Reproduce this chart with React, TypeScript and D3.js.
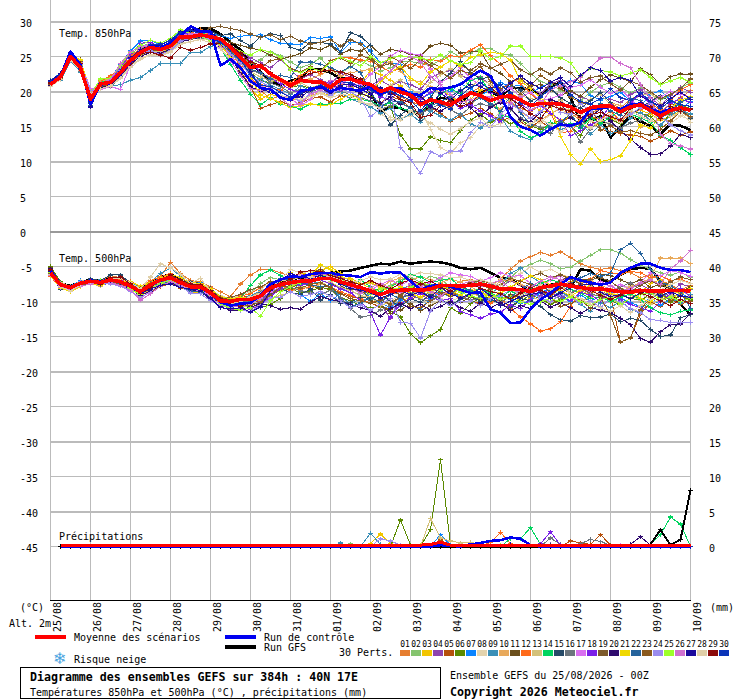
import * as d3 from "d3";

const dates = ["25/08","26/08","27/08","28/08","29/08","30/08","31/08","01/09","02/09","03/09","04/09","05/09","06/09","07/09","08/09","09/09","10/09"];
const leftTicks = [30,25,20,15,10,5,0,-5,-10,-15,-20,-25,-30,-35,-40,-45];
const rightTicks = [75,70,65,60,55,50,45,40,35,30,25,20,15,10,5,0];

const meanT850 = [21.0,22.1,25.0,23.4,18.9,21.1,21.3,22.7,24.4,25.6,26.3,26.0,26.5,27.8,27.8,28.1,27.8,27.5,26.3,24.9,23.4,23.7,22.5,21.7,20.9,21.6,21.4,21.4,20.6,21.7,21.8,21.3,21.0,20.0,20.5,19.9,19.5,18.1,18.8,18.5,18.1,19.0,19.8,19.4,18.7,19.2,19.4,18.8,18.0,18.3,18.3,18.2,17.8,17.0,17.7,17.9,17.9,17.1,17.8,18.1,17.3,16.5,17.3,17.7,17.3];
const controlT850 = [21.2,22.2,25.7,23.8,18.2,21.0,21.2,22.5,24.2,25.5,26.5,26.2,27.0,27.9,29.3,28.6,28.6,23.7,24.6,23.4,21.5,20.5,20.3,19.1,18.8,20.1,20.3,20.7,20.0,20.5,20.3,20.1,20.7,19.6,20.5,20.5,19.6,19.5,20.5,20.3,20.6,21.0,22.1,23.0,22.2,19.6,16.3,15.0,14.5,13.7,14.6,15.3,15.1,15.6,17.5,17.6,17.8,17.5,18.1,18.3,17.5,17.0,17.5,17.6,17.3];
const gfsT850 = [21.1,22.0,25.1,23.6,19.0,21.2,21.4,22.8,24.6,25.9,26.5,26.3,26.8,28.2,28.6,29.0,29.0,28.2,27.0,26.0,24.0,22.8,21.4,21.0,21.5,22.0,23.2,23.2,22.7,21.8,22.0,21.5,19.9,17.0,17.8,17.6,17.0,16.8,18.2,19.1,18.9,18.4,19.8,20.0,20.0,19.2,20.5,20.5,20.3,19.5,20.7,21.3,19.1,15.8,15.8,16.5,13.4,15.0,16.5,15.7,15.1,13.9,15.3,15.1,14.5];

const t850Members = [
  [21.3,22.4,25.1,23.9,19.2,21.2,21.6,23.3,24.9,26.2,26.7,26.5,26.8,28.1,28.3,28.9,28.4,27.6,25.8,24.3,22.1,20.2,18.9,19.4,19.1,20.0,20.4,20.9,20.2,21.0,20.9,20.5,20.8,19.4,20.2,19.2,18.6,18.0,18.9,18.2,17.8,18.9,19.9,20.6,20.2,19.6,18.4,17.6,17.1,18.1,18.6,17.4,16.9,15.9,16.7,17.8,18.3,17.6,18.9,19.6,18.5,17.2,18.1,19.1,20.1],
  [21.1,22.2,24.8,23.5,19.4,21.4,21.8,23.6,25.3,26.4,26.9,26.2,26.4,27.6,28.0,28.3,27.9,27.0,26.1,25.0,24.0,24.5,25.7,25.1,24.2,23.4,23.9,24.8,23.2,22.6,23.5,24.4,23.7,22.9,23.4,24.2,24.3,24.0,23.8,24.4,25.7,24.9,25.5,26.1,26.1,25.4,25.2,24.0,22.6,21.4,21.0,20.2,19.4,18.7,19.9,20.8,21.3,20.6,19.8,20.5,19.6,18.9,19.4,20.6,21.2],
  [21.0,22.0,25.2,24.4,20.2,20.9,21.0,22.4,24.0,25.1,25.8,25.6,26.2,27.5,27.7,28.0,27.6,27.1,25.5,23.0,20.4,18.9,19.6,19.2,19.0,18.7,19.4,19.8,19.4,20.1,20.4,21.1,23.0,22.4,21.6,20.8,19.4,18.9,19.7,20.4,19.3,18.4,18.9,20.2,19.7,18.6,19.8,19.0,18.2,17.3,16.8,15.9,16.4,15.2,14.8,15.6,16.2,15.8,16.9,17.3,16.8,15.9,16.4,17.2,16.7],
  [21.4,22.3,25.3,23.2,18.6,21.2,21.3,23.0,24.7,25.6,26.1,25.7,26.6,28.2,28.3,28.4,28.0,27.2,26.6,25.7,24.8,24.1,23.4,24.6,23.1,21.8,22.4,21.7,21.0,22.6,22.1,21.4,20.9,21.6,20.8,21.4,21.0,20.3,22.0,22.6,23.0,22.4,21.6,22.1,20.9,20.2,21.4,21.8,20.7,19.6,21.1,21.6,20.0,19.2,18.8,19.6,18.9,18.4,19.6,20.2,19.1,18.0,19.4,20.6,19.9],
  [20.9,21.9,24.6,23.0,19.1,20.7,20.9,22.0,23.8,25.2,25.9,25.4,25.8,27.3,27.6,27.9,27.7,26.8,24.8,22.9,20.8,17.6,18.1,18.6,18.0,18.4,19.0,19.2,18.5,19.4,19.1,19.6,19.3,18.4,19.2,18.9,17.6,16.8,17.7,16.9,15.8,16.4,16.9,17.6,16.8,15.9,16.2,15.6,14.9,15.8,14.7,15.5,16.4,15.3,15.9,14.6,14.3,14.0,13.8,13.6,12.9,13.5,14.4,13.8,14.2],
  [21.2,22.1,24.9,23.7,19.8,21.0,21.5,22.7,24.4,25.4,26.0,25.6,25.9,27.4,27.9,28.1,27.6,26.9,26.0,24.6,22.7,21.6,21.2,21.9,20.6,20.9,20.4,20.9,20.0,20.4,20.8,19.6,19.3,18.2,17.8,13.8,11.8,11.8,13.5,13.0,12.7,14.4,15.9,16.8,15.6,16.2,15.4,15.9,15.1,14.6,15.3,15.9,15.0,13.7,16.1,16.2,16.0,15.4,17.2,16.9,16.4,15.0,17.0,18.0,17.6],
  [21.6,22.6,25.4,24.1,19.0,21.6,21.9,23.9,25.8,27.2,27.3,26.6,27.4,28.6,28.7,28.6,28.2,28.0,27.6,27.9,28.0,28.1,27.4,26.9,26.8,26.7,27.7,27.6,27.8,25.6,27.0,27.0,25.8,24.1,24.1,23.9,20.0,19.0,19.7,20.4,20.0,21.1,20.4,19.5,20.2,21.3,20.7,20.9,19.8,20.6,21.2,20.8,21.6,21.1,19.4,18.8,19.3,19.9,18.6,17.9,19.6,20.1,18.8,17.6,18.5],
  [20.8,21.7,24.4,23.1,19.6,20.5,20.6,21.9,23.4,24.6,25.2,25.1,25.6,26.9,27.1,27.5,27.3,26.5,25.0,23.5,21.4,20.6,20.8,20.0,19.1,19.4,19.0,19.9,19.2,20.2,20.0,18.6,17.9,16.8,15.9,16.2,16.5,17.4,14.6,12.0,11.2,12.7,13.4,15.1,15.9,17.0,16.2,15.7,16.3,15.4,16.8,17.7,16.2,16.9,15.8,15.3,15.6,16.1,16.6,17.4,17.8,16.2,15.4,16.5,16.0],
  [20.9,21.6,24.3,22.8,19.9,20.4,20.7,21.0,21.6,22.0,23.0,24.0,24.0,24.0,25.6,25.6,26.4,27.0,25.9,24.0,22.4,21.8,20.9,20.3,19.6,20.8,20.1,20.7,19.8,19.9,18.9,18.4,17.8,16.9,17.6,16.0,16.8,15.6,17.2,16.5,15.9,16.8,15.4,14.8,15.9,16.4,14.3,13.6,13.1,14.2,15.1,14.6,14.9,15.6,13.9,15.3,14.0,14.6,16.2,17.0,15.9,15.2,16.6,17.4,16.8],
  [21.2,22.3,25.0,23.8,20.0,21.3,22.0,23.2,24.6,25.8,26.5,26.1,26.3,27.7,28.0,28.6,28.1,27.0,25.4,24.4,23.1,22.6,22.1,21.4,20.6,21.2,21.8,22.4,23.1,22.2,22.7,22.9,23.2,23.8,24.2,22.9,21.6,21.4,20.7,19.9,18.4,19.0,17.9,19.6,18.2,17.5,18.8,17.1,16.2,15.9,16.8,17.6,17.4,16.1,16.8,17.5,18.4,18.0,17.2,14.9,15.6,16.0,15.8,17.2,16.1],
  [21.0,22.0,24.7,24.6,19.5,21.1,21.2,23.1,24.8,25.9,26.4,26.3,26.7,27.8,28.0,28.2,27.9,27.6,27.0,26.6,26.2,25.9,25.2,24.6,25.0,25.4,26.2,26.0,26.6,25.3,26.0,25.8,26.6,25.3,26.0,25.8,25.3,25.1,26.5,26.9,26.6,25.5,25.7,25.7,23.4,22.6,21.4,21.9,20.7,21.0,20.2,19.4,20.1,19.3,20.6,21.7,22.4,21.9,21.4,23.2,22.4,21.0,22.1,22.5,22.5],
  [21.3,22.2,24.9,23.6,19.3,21.5,22.2,23.5,25.2,26.0,26.2,25.9,26.9,28.3,28.4,28.7,28.2,27.2,25.7,23.6,21.7,21.0,20.5,20.2,21.2,22.3,23.0,22.6,24.4,24.9,24.8,24.5,24.3,23.6,22.8,23.3,23.9,23.5,24.6,24.3,25.1,25.0,25.9,26.7,25.1,23.9,22.2,21.1,19.8,18.4,16.9,14.1,14.3,15.7,16.4,16.0,17.2,15.8,16.7,17.5,18.2,17.4,18.8,20.2,21.0],
  [21.1,22.1,25.0,23.5,19.7,21.0,21.4,22.6,23.9,25.2,25.7,25.8,26.1,27.2,27.6,27.7,27.8,27.1,25.6,24.2,22.8,22.1,21.5,21.9,20.9,21.3,20.5,21.0,20.3,21.4,21.9,20.9,20.2,19.5,20.9,21.7,20.3,19.6,21.3,22.4,23.3,22.2,20.6,21.8,21.0,19.7,18.8,19.4,19.0,18.6,17.9,18.8,17.3,18.2,18.9,19.6,18.1,17.4,18.6,19.4,19.8,18.3,17.6,18.4,19.2],
  [21.2,22.4,25.2,24.0,19.1,21.3,21.6,22.9,24.5,25.7,26.6,26.4,26.8,27.6,28.1,28.5,27.8,26.2,23.9,21.6,19.6,18.1,19.1,18.2,17.9,17.5,18.2,18.2,18.2,18.3,18.9,18.9,18.6,17.9,18.4,17.6,17.2,17.0,18.1,19.6,20.4,19.7,21.6,22.0,19.8,16.6,16.3,14.3,13.4,13.9,15.6,15.2,15.4,14.8,16.2,15.5,16.3,17.4,16.8,16.2,15.6,13.8,13.0,12.0,11.0],
  [21.5,22.5,25.0,23.3,18.4,21.1,21.3,22.8,24.6,25.6,26.3,26.7,27.4,28.3,28.0,28.4,28.6,28.0,28.2,27.3,26.5,27.8,28.2,28.0,26.3,25.9,27.0,27.0,26.8,25.6,28.4,27.9,26.6,17.9,15.2,16.6,17.8,15.9,19.1,21.4,22.6,24.3,22.7,21.8,22.1,20.4,21.0,20.2,18.6,19.3,20.5,19.1,18.3,17.6,18.7,19.9,18.4,17.0,16.8,17.6,18.6,19.4,18.5,17.4,16.2],
  [20.9,21.8,24.7,22.9,19.4,20.8,20.6,22.2,24.1,25.3,25.8,25.9,26.0,27.0,27.7,27.6,27.4,26.7,25.3,24.5,23.0,22.6,21.2,20.7,19.8,20.3,19.9,20.5,19.6,20.1,19.5,19.1,18.7,17.4,18.0,18.4,17.6,16.9,17.5,18.3,17.4,16.6,17.8,18.2,17.9,18.6,17.4,16.2,15.4,14.9,14.0,15.7,15.2,12.8,14.6,15.9,15.3,14.8,15.5,15.9,17.1,16.4,16.9,17.7,16.3],
  [21.0,22.3,25.0,24.2,20.4,20.3,20.7,20.3,23.8,26.3,26.8,26.0,27.1,28.0,28.2,28.3,27.7,26.6,25.2,23.2,21.5,20.8,20.0,19.4,19.1,17.9,18.9,20.6,20.1,21.2,21.8,20.9,22.5,23.5,25.1,25.9,25.4,25.2,23.2,21.3,22.1,23.4,21.9,20.8,19.7,19.6,20.5,19.2,19.9,18.7,19.0,19.5,20.6,20.9,21.7,20.6,19.7,20.4,18.9,17.6,18.4,19.2,20.0,19.6,19.2],
  [21.3,22.2,25.0,23.7,18.8,21.2,21.5,23.4,25.4,26.9,27.0,26.4,26.9,28.4,28.1,27.9,28.2,27.3,26.4,25.2,24.4,22.7,21.9,21.1,20.3,19.8,20.2,20.9,21.4,20.2,20.9,21.6,20.4,19.2,18.8,20.3,19.6,18.9,19.9,20.6,18.7,17.6,18.1,17.2,16.5,15.6,17.7,18.2,17.3,18.0,16.9,15.9,13.7,14.4,15.2,16.0,18.1,17.3,18.4,19.7,18.2,16.8,18.3,19.0,18.4],
  [21.4,22.5,25.2,24.3,19.2,21.0,21.4,22.9,24.3,25.5,26.0,26.1,26.5,27.9,28.1,28.2,29.1,29.3,29.0,28.7,28.2,27.7,28.1,27.4,27.9,27.2,26.8,27.0,27.4,26.5,27.4,26.8,24.9,23.6,24.0,23.2,24.6,25.0,24.1,23.5,24.4,23.8,23.0,24.0,23.3,23.9,24.5,23.1,22.4,23.2,22.5,23.4,22.7,21.3,22.0,22.2,21.1,20.2,21.5,20.9,19.9,19.0,19.6,20.4,21.8],
  [20.9,22.0,24.8,23.3,19.3,20.6,20.9,22.3,23.9,25.0,25.6,25.5,26.0,27.1,27.4,27.8,27.3,26.4,25.0,22.6,20.7,20.0,20.5,19.3,18.8,19.6,20.3,20.5,19.7,20.7,20.3,19.8,19.1,18.3,19.2,18.2,18.9,19.4,17.8,17.2,18.0,18.6,17.7,16.4,17.8,18.4,17.6,16.0,15.7,17.0,18.8,18.4,16.2,15.4,16.4,17.5,15.8,14.4,13.2,12.0,11.0,11.1,12.2,13.9,13.4],
  [21.1,22.1,25.3,24.5,19.9,21.1,21.0,22.5,24.2,25.3,26.2,26.0,26.2,27.4,27.6,28.0,27.6,26.6,24.9,23.3,21.9,19.5,19.0,18.4,17.7,18.0,18.2,18.0,18.1,18.9,19.6,18.9,20.2,21.4,22.7,23.6,21.9,21.0,22.8,23.5,24.4,23.6,24.9,25.2,25.6,25.4,24.5,21.5,20.4,19.1,18.0,13.6,11.0,9.6,11.8,10.0,10.3,10.8,13.0,15.2,14.8,16.4,17.6,18.8,19.2],
  [21.6,22.5,25.5,23.6,18.0,20.9,21.2,22.6,24.3,25.5,25.9,26.2,26.4,27.6,27.4,27.9,27.6,26.8,25.6,24.4,23.2,22.7,21.8,22.3,22.0,24.2,24.2,23.9,23.4,22.8,23.6,22.7,20.0,17.8,18.7,18.5,17.6,18.3,17.9,18.6,19.2,20.3,18.4,19.1,18.2,17.1,19.4,17.0,15.2,16.3,14.8,15.6,16.8,14.9,17.5,18.2,17.2,16.6,19.0,18.7,17.3,16.1,17.2,18.5,19.1],
  [21.0,21.9,24.7,23.4,19.0,20.7,21.1,22.4,24.2,25.3,25.9,25.9,26.3,27.4,27.5,27.9,27.5,26.7,25.8,25.0,24.2,23.4,24.4,24.7,23.3,22.8,23.5,22.9,24.4,24.8,24.0,25.2,24.6,23.4,24.9,24.3,23.3,24.5,23.7,22.8,21.9,23.0,22.5,23.6,21.4,20.4,21.0,19.6,20.9,22.3,21.4,20.5,19.2,18.4,18.1,14.5,15.1,14.2,14.4,14.0,13.8,14.6,15.8,17.1,16.4],
  [21.2,22.0,24.4,23.9,20.1,21.0,21.3,23.0,24.5,25.4,25.8,25.3,25.8,27.2,27.6,28.0,27.4,27.0,25.3,24.1,22.2,21.4,20.6,20.0,19.2,18.6,19.7,20.2,19.5,20.4,19.9,19.1,16.4,17.6,20.5,12.0,10.3,8.3,11.4,10.8,11.5,11.5,14.1,15.6,14.9,16.7,18.2,17.3,16.2,17.1,18.4,17.0,16.8,18.3,17.2,15.9,16.5,16.0,16.8,17.7,18.3,16.6,15.2,14.4,13.8],
  [21.3,22.4,25.1,23.7,19.5,21.8,21.9,23.7,25.6,26.6,27.3,26.9,27.6,28.8,28.3,27.9,27.2,26.7,26.5,25.7,25.2,26.0,25.6,24.9,23.0,22.7,23.4,22.9,24.1,24.9,24.3,23.7,25.0,24.1,24.7,25.1,24.9,24.8,24.4,25.2,24.4,23.9,24.1,25.8,24.6,25.0,26.5,26.5,25.0,25.0,25.0,24.8,24.1,22.2,23.3,23.0,22.8,22.2,22.6,23.1,22.0,21.0,21.5,22.0,21.3],
  [21.1,22.3,24.9,23.4,19.6,21.2,21.7,24.0,25.7,26.3,26.5,26.0,26.3,27.7,28.2,28.0,27.6,26.3,24.4,22.3,20.4,20.1,20.6,19.1,18.0,18.2,19.6,20.2,21.6,21.5,20.4,21.4,20.1,21.8,22.9,24.4,25.0,24.2,22.1,21.0,19.6,18.4,18.8,19.4,19.2,18.6,18.3,19.2,17.4,18.0,20.3,20.8,21.4,22.0,23.4,24.8,24.9,24.0,23.4,21.0,19.0,13.9,12.6,12.2,11.8],
  [21.5,22.6,25.6,23.3,17.8,20.9,21.1,22.8,24.8,26.0,26.5,26.6,27.3,28.5,28.9,28.4,28.5,27.4,26.5,25.3,22.9,20.4,19.9,19.3,18.9,19.2,20.2,20.6,19.9,20.9,21.0,20.4,19.6,20.5,19.6,20.2,19.2,18.5,17.9,19.8,18.7,20.1,21.0,20.7,19.9,19.4,21.2,22.2,21.2,20.4,21.3,22.0,20.7,22.3,23.4,23.0,21.5,22.0,21.6,19.3,18.6,17.9,19.0,19.9,18.9],
  [20.7,21.7,24.5,23.0,19.7,20.4,20.8,22.0,23.6,24.8,25.3,25.2,25.7,26.7,27.1,27.4,27.0,26.1,24.6,23.1,21.3,20.4,20.1,19.4,19.0,18.9,19.3,19.7,19.1,19.6,19.4,18.5,18.2,17.6,16.3,15.9,17.2,16.4,15.5,14.6,13.9,14.7,15.7,16.2,15.0,15.4,16.1,14.8,15.4,16.0,15.3,14.2,15.1,15.6,14.8,15.9,16.7,15.6,17.4,16.5,15.8,16.9,16.4,17.0,15.6],
  [21.2,22.0,25.0,24.0,19.0,21.0,21.3,22.7,24.0,25.4,25.6,25.2,24.8,26.3,25.9,26.3,26.8,26.9,26.6,25.5,24.2,23.8,22.7,21.6,20.8,21.9,22.6,22.9,23.0,22.8,22.4,21.8,20.7,20.0,19.9,18.9,18.4,16.3,16.6,18.0,18.7,17.9,18.3,19.7,20.5,19.5,19.0,18.0,16.8,16.1,18.0,17.5,17.2,16.3,16.7,17.0,16.4,15.9,17.6,18.4,17.8,16.1,17.9,17.1,17.5],
  [21.4,22.4,25.4,23.2,18.3,21.1,21.4,22.9,24.7,25.7,26.7,26.8,27.2,28.4,28.7,28.3,27.7,27.0,26.0,24.5,22.4,20.9,20.7,19.9,19.2,19.8,20.5,20.8,20.4,21.4,21.2,20.7,20.3,19.5,20.0,19.4,18.8,17.2,19.0,18.0,17.5,19.4,20.6,21.2,20.3,21.0,19.8,18.4,17.9,19.2,20.4,21.3,19.5,18.6,18.2,19.0,20.4,19.1,18.7,19.8,18.6,17.6,18.7,18.1,17.9],
];

const meanT500 = [-5.9,-7.6,-8.0,-7.4,-7.1,-7.3,-6.9,-7.2,-7.8,-8.6,-7.6,-6.9,-6.6,-7.3,-7.9,-7.9,-8.8,-9.9,-10.0,-9.7,-9.7,-9.2,-8.0,-7.6,-7.3,-7.1,-7.1,-6.7,-6.7,-7.2,-7.6,-8.0,-8.5,-9.0,-8.5,-8.4,-8.3,-8.4,-8.2,-7.7,-7.7,-7.8,-7.7,-7.5,-7.8,-8.2,-8.2,-8.3,-8.6,-8.0,-7.8,-7.5,-7.8,-8.0,-8.2,-8.2,-8.4,-8.6,-8.7,-8.4,-8.5,-8.5,-8.4,-8.4,-8.5];
const controlT500 = [-5.6,-7.5,-8.1,-7.3,-7.0,-7.2,-6.8,-7.3,-7.9,-8.7,-7.7,-7.0,-6.5,-7.4,-7.8,-8.0,-8.9,-10.1,-10.6,-10.3,-10.2,-9.1,-7.5,-6.9,-6.4,-6.5,-6.1,-5.9,-5.9,-6.2,-6.3,-6.5,-5.8,-6.0,-5.8,-5.9,-7.1,-8.3,-7.8,-7.6,-7.9,-8.3,-8.8,-8.7,-11.1,-11.6,-13.1,-13.0,-11.1,-9.7,-8.8,-7.6,-6.5,-7.0,-7.3,-7.6,-7.3,-5.9,-5.2,-4.6,-4.6,-5.2,-5.5,-5.5,-5.8];
const gfsT500 = [-5.5,-7.4,-7.8,-7.2,-6.9,-7.1,-6.6,-7.0,-7.6,-8.4,-7.2,-6.5,-6.1,-6.9,-7.6,-7.7,-8.6,-9.8,-10.2,-9.9,-9.8,-8.9,-7.7,-7.1,-6.8,-6.6,-6.4,-6.0,-5.9,-5.7,-5.6,-5.2,-4.9,-4.6,-4.7,-4.3,-4.6,-4.4,-4.3,-4.4,-4.7,-5.2,-5.4,-5.2,-5.9,-6.6,-6.9,-7.6,-8.5,-7.8,-7.6,-7.6,-8.0,-5.4,-5.6,-6.9,-7.1,-6.2,-5.4,-5.2,-5.3,-7.1,-8.8,-10.4,-11.9];

const t500Members = [
  [-6.0,-7.9,-8.4,-7.6,-6.8,-7.0,-6.3,-6.6,-7.3,-9.7,-7.1,-6.4,-4.4,-6.0,-7.0,-7.2,-7.9,-8.6,-9.3,-7.5,-6.2,-5.4,-5.4,-5.9,-6.4,-6.9,-6.6,-5.7,-6.1,-6.8,-7.4,-7.9,-8.2,-8.6,-7.7,-7.3,-7.0,-7.6,-8.1,-7.4,-7.9,-7.1,-6.9,-7.6,-7.9,-6.8,-5.4,-4.2,-3.6,-3.0,-3.4,-2.9,-3.7,-4.6,-5.1,-5.4,-5.2,-5.6,-5.9,-6.6,-6.2,-7.0,-7.6,-8.4,-7.7],
  [-6.2,-7.7,-7.9,-7.2,-7.3,-7.6,-7.0,-7.4,-7.7,-8.4,-8.0,-7.6,-7.1,-7.8,-8.1,-8.3,-8.9,-9.8,-9.6,-9.3,-8.8,-7.4,-6.6,-6.9,-7.7,-7.5,-6.8,-7.0,-7.4,-8.1,-8.4,-9.1,-9.0,-8.2,-7.7,-6.9,-6.6,-7.2,-6.4,-6.8,-7.9,-8.1,-7.4,-7.1,-7.7,-8.2,-6.6,-5.3,-4.7,-4.1,-4.6,-5.3,-5.1,-4.2,-3.4,-2.6,-2.6,-3.1,-4.0,-4.8,-5.4,-5.9,-6.2,-5.8,-6.6],
  [-5.4,-7.3,-8.6,-7.9,-7.4,-7.0,-7.3,-7.6,-8.2,-9.2,-8.1,-7.3,-6.9,-7.5,-8.6,-8.8,-9.3,-10.5,-10.7,-10.4,-9.9,-9.9,-9.2,-7.9,-6.7,-5.9,-6.2,-5.6,-5.0,-6.0,-6.7,-7.4,-8.1,-9.6,-10.6,-9.9,-9.4,-8.9,-9.5,-8.7,-9.1,-8.2,-8.6,-9.4,-8.8,-9.6,-9.1,-9.9,-9.6,-8.7,-9.3,-8.1,-7.2,-8.4,-9.1,-7.9,-9.0,-9.6,-8.2,-8.8,-7.4,-6.9,-8.1,-9.0,-8.3],
  [-6.1,-7.8,-8.3,-7.5,-7.2,-7.5,-7.1,-7.1,-7.6,-8.9,-8.2,-7.1,-6.9,-7.1,-8.0,-8.1,-9.2,-10.2,-11.2,-10.9,-10.6,-10.0,-8.7,-7.4,-7.0,-6.4,-6.9,-6.2,-6.0,-6.6,-6.9,-8.6,-9.3,-10.4,-12.4,-9.6,-8.4,-8.9,-9.9,-8.3,-7.7,-8.5,-7.4,-6.9,-7.3,-8.1,-7.0,-7.7,-8.4,-9.2,-7.9,-7.2,-7.8,-8.5,-8.1,-8.6,-9.0,-9.3,-8.0,-7.6,-8.3,-9.4,-8.8,-7.5,-7.9],
  [-5.8,-8.0,-8.4,-7.8,-7.0,-7.4,-7.2,-7.7,-8.2,-9.1,-8.6,-7.9,-7.4,-8.1,-8.4,-8.2,-9.1,-10.3,-10.1,-9.0,-9.6,-10.2,-9.0,-8.4,-8.2,-8.0,-7.6,-7.9,-8.4,-8.8,-9.3,-9.6,-10.2,-10.8,-11.1,-10.2,-9.6,-9.3,-8.7,-8.9,-8.5,-9.3,-9.8,-10.4,-9.9,-9.0,-9.5,-9.0,-8.2,-7.8,-8.6,-7.9,-8.9,-8.1,-8.7,-7.9,-9.2,-15.8,-15.2,-11.8,-10.1,-10.7,-9.6,-10.4,-9.9],
  [-5.0,-7.2,-7.9,-7.6,-6.8,-7.5,-7.0,-7.3,-7.5,-8.5,-7.8,-7.0,-7.2,-7.6,-8.3,-8.5,-9.6,-10.0,-10.4,-10.3,-10.7,-10.9,-10.4,-9.6,-8.1,-8.8,-8.5,-8.0,-8.2,-9.4,-9.9,-10.6,-10.9,-10.7,-11.4,-12.2,-14.6,-15.9,-14.9,-14.0,-10.9,-11.7,-10.3,-9.5,-10.1,-9.7,-10.8,-9.9,-9.1,-9.6,-10.4,-9.8,-9.0,-10.2,-9.3,-8.9,-9.8,-10.6,-9.5,-9.9,-8.9,-9.4,-10.1,-9.2,-9.8],
  [-6.3,-7.5,-7.8,-7.0,-7.0,-7.1,-6.7,-7.0,-7.3,-8.1,-7.4,-6.6,-6.3,-7.0,-7.5,-7.3,-8.5,-9.6,-10.2,-10.4,-9.5,-8.7,-7.6,-6.8,-6.4,-9.0,-10.0,-8.9,-9.9,-8.9,-7.4,-8.4,-9.4,-10.2,-10.9,-9.8,-10.4,-11.1,-9.6,-8.8,-9.3,-9.0,-8.3,-8.8,-8.4,-8.9,-9.7,-10.3,-9.9,-8.7,-8.2,-9.3,-10.0,-9.1,-9.9,-9.3,-8.6,-9.5,-10.2,-10.7,-9.4,-10.5,-9.7,-8.8,-9.6],
  [-5.9,-7.6,-8.2,-7.5,-6.9,-7.4,-7.0,-7.1,-7.5,-8.3,-7.5,-6.8,-6.4,-6.9,-7.4,-7.5,-8.3,-9.2,-9.6,-9.1,-8.6,-8.2,-7.3,-6.9,-5.4,-5.9,-5.7,-6.6,-6.9,-7.5,-8.9,-8.4,-9.7,-10.6,-9.9,-9.1,-8.7,-9.4,-10.5,-9.6,-9.9,-9.4,-9.2,-9.8,-8.1,-6.7,-7.0,-6.0,-5.1,-5.8,-5.4,-6.1,-6.6,-7.4,-8.1,-8.6,-9.2,-8.3,-7.6,-8.9,-9.7,-8.6,-7.9,-8.4,-9.1],
  [-5.7,-7.7,-8.3,-7.7,-7.1,-6.9,-7.1,-7.5,-8.4,-8.9,-7.2,-6.0,-5.2,-6.4,-7.5,-7.8,-8.7,-9.7,-9.9,-9.7,-9.2,-8.5,-7.9,-7.6,-7.5,-7.8,-7.1,-7.4,-7.9,-9.4,-10.3,-9.6,-9.8,-8.7,-8.9,-8.2,-7.7,-8.6,-9.0,-8.5,-7.9,-8.3,-8.9,-8.6,-9.1,-7.6,-6.0,-5.2,-6.4,-7.3,-7.9,-8.6,-9.4,-10.4,-11.4,-10.2,-10.9,-9.9,-11.1,-11.7,-9.6,-8.9,-9.5,-10.2,-9.0],
  [-6.0,-7.9,-8.1,-7.6,-7.4,-7.8,-7.2,-7.6,-8.0,-9.3,-8.3,-7.5,-6.8,-7.7,-8.2,-8.4,-9.0,-10.0,-10.6,-10.0,-9.4,-8.6,-7.8,-7.3,-7.7,-7.2,-6.5,-6.3,-6.6,-7.1,-6.9,-7.6,-7.4,-8.0,-7.1,-6.6,-7.0,-6.4,-6.9,-7.3,-6.8,-7.2,-7.9,-8.7,-8.2,-7.1,-6.9,-7.6,-8.0,-7.5,-6.9,-6.2,-6.6,-7.4,-7.0,-7.7,-8.2,-8.6,-7.9,-7.3,-6.7,-3.8,-3.8,-3.8,-4.6],
  [-5.2,-7.4,-8.0,-7.4,-7.3,-7.6,-7.3,-7.3,-7.7,-8.2,-7.9,-7.2,-6.7,-7.2,-7.6,-7.7,-9.0,-9.4,-9.8,-10.0,-10.3,-10.2,-8.9,-8.3,-8.0,-7.4,-7.7,-8.2,-7.5,-7.9,-8.3,-8.1,-9.9,-10.4,-11.7,-11.2,-10.3,-11.3,-10.6,-9.9,-10.4,-10.1,-9.4,-9.8,-9.3,-9.9,-9.0,-9.5,-8.8,-8.3,-7.7,-7.0,-6.4,-6.9,-6.8,-6.1,-6.3,-6.9,-7.5,-6.9,-8.0,-7.5,-8.2,-8.7,-7.9],
  [-6.4,-8.1,-8.5,-7.8,-7.2,-7.2,-6.8,-6.9,-7.1,-7.9,-7.0,-6.5,-6.0,-7.2,-7.7,-7.6,-8.4,-9.5,-9.9,-9.2,-8.9,-8.0,-7.1,-7.7,-8.4,-8.2,-7.9,-7.4,-7.9,-8.6,-9.1,-9.6,-10.2,-9.7,-9.0,-8.6,-7.9,-8.8,-8.4,-9.1,-8.8,-9.6,-9.0,-8.9,-10.2,-9.5,-11.0,-12.2,-13.2,-14.2,-13.9,-12.9,-10.7,-8.4,-6.8,-5.6,-5.9,-6.1,-5.7,-5.9,-6.6,-6.3,-7.0,-6.8,-7.4],
  [-5.5,-7.3,-7.8,-7.1,-6.9,-7.3,-6.9,-7.2,-8.1,-8.8,-7.6,-7.0,-6.8,-7.5,-8.0,-8.3,-9.4,-9.9,-10.1,-10.6,-10.9,-10.4,-9.7,-9.1,-8.7,-7.9,-8.2,-7.5,-7.2,-8.0,-8.4,-9.2,-9.3,-10.6,-10.1,-9.4,-9.2,-8.1,-8.8,-7.8,-8.5,-8.0,-8.9,-9.2,-8.4,-8.9,-7.9,-8.6,-9.3,-9.8,-8.9,-7.6,-8.7,-9.9,-9.4,-8.8,-9.7,-8.5,-9.1,-9.8,-10.4,-9.7,-9.1,-8.3,-9.3],
  [-5.8,-7.6,-8.1,-7.3,-6.9,-7.1,-7.1,-7.4,-7.9,-8.3,-7.7,-7.1,-6.7,-7.4,-8.1,-8.0,-9.0,-9.8,-10.1,-9.5,-7.7,-6.2,-5.5,-6.3,-7.1,-7.6,-7.2,-6.9,-6.8,-7.5,-7.8,-6.9,-7.9,-8.6,-7.9,-7.2,-6.2,-6.5,-7.3,-7.0,-6.7,-7.9,-8.6,-8.2,-8.8,-9.4,-8.5,-9.2,-8.1,-7.4,-6.9,-7.3,-8.3,-8.8,-9.6,-9.3,-10.0,-9.4,-8.9,-9.7,-10.9,-11.6,-11.9,-11.4,-11.2],
  [-6.2,-8.2,-8.4,-7.7,-6.8,-7.0,-6.2,-6.2,-7.4,-8.3,-7.5,-7.0,-6.3,-6.8,-7.2,-7.4,-8.1,-9.5,-10.8,-10.6,-10.1,-9.3,-8.9,-8.2,-8.7,-9.0,-8.2,-9.8,-9.0,-10.3,-10.1,-9.4,-9.6,-9.0,-9.9,-10.7,-9.6,-10.1,-9.0,-9.7,-10.5,-9.7,-9.1,-10.0,-9.6,-10.4,-10.9,-9.6,-9.9,-10.7,-11.9,-12.6,-12.8,-12.0,-12.3,-12.2,-11.8,-12.9,-12.4,-12.7,-14.0,-15.0,-14.8,-12.3,-11.9],
  [-5.9,-7.8,-8.2,-7.6,-7.1,-7.2,-7.0,-7.3,-7.8,-8.7,-7.9,-7.3,-6.9,-7.5,-7.9,-8.1,-9.1,-9.9,-10.5,-10.1,-10.0,-9.7,-8.6,-8.3,-7.9,-8.5,-8.8,-9.0,-8.4,-9.5,-11.0,-12.2,-12.0,-11.2,-10.6,-9.4,-9.0,-9.7,-9.9,-9.3,-8.7,-9.2,-9.8,-9.5,-9.0,-10.1,-9.3,-8.9,-9.4,-8.6,-9.1,-9.6,-8.7,-8.2,-8.9,-9.3,-8.5,-7.9,-7.3,-8.3,-9.0,-8.5,-9.4,-8.8,-8.2],
  [-5.6,-7.7,-8.4,-7.8,-7.3,-7.5,-7.1,-7.6,-8.4,-9.6,-8.4,-6.9,-6.7,-7.8,-8.6,-8.3,-9.5,-10.4,-10.8,-10.5,-10.4,-9.4,-8.7,-7.8,-6.7,-6.1,-6.3,-6.5,-6.4,-6.9,-7.8,-8.6,-8.4,-7.6,-6.9,-7.7,-6.9,-7.9,-7.3,-6.6,-5.9,-6.2,-6.4,-7.1,-6.6,-5.9,-6.4,-6.3,-7.4,-8.1,-6.9,-6.3,-7.7,-8.4,-7.8,-7.1,-7.9,-7.6,-8.2,-7.3,-5.9,-6.3,-5.6,-5.9,-6.4],
  [-5.7,-7.5,-7.9,-7.2,-7.1,-7.7,-7.3,-7.0,-7.4,-8.2,-7.3,-6.8,-7.0,-7.6,-7.9,-7.8,-8.7,-9.8,-10.5,-10.9,-11.1,-10.5,-9.3,-8.1,-7.3,-7.7,-7.3,-6.9,-7.5,-8.2,-8.7,-9.9,-11.6,-14.8,-12.2,-10.4,-9.5,-8.9,-9.3,-9.9,-9.6,-11.4,-11.9,-12.4,-11.8,-11.5,-10.5,-11.0,-9.7,-8.4,-8.8,-9.2,-9.9,-8.7,-9.1,-9.9,-8.6,-9.8,-10.4,-10.9,-11.4,-10.0,-8.9,-8.1,-9.4],
  [-6.1,-7.8,-8.2,-7.4,-7.0,-7.4,-7.2,-7.5,-8.0,-8.6,-7.9,-7.1,-6.6,-7.0,-7.7,-7.9,-8.9,-9.6,-9.4,-9.0,-8.3,-7.9,-7.2,-7.8,-7.0,-6.3,-6.0,-5.4,-6.2,-7.2,-8.0,-8.6,-8.9,-8.1,-8.5,-9.0,-8.3,-7.4,-8.0,-8.7,-9.3,-8.6,-7.4,-7.0,-7.4,-8.4,-8.0,-7.1,-6.4,-6.0,-6.6,-6.2,-6.8,-7.5,-6.9,-6.6,-7.1,-8.2,-8.6,-7.7,-7.0,-7.8,-7.2,-6.5,-6.9],
  [-5.3,-7.4,-8.0,-7.5,-7.2,-7.6,-7.4,-7.7,-8.3,-9.1,-8.5,-7.7,-7.3,-7.9,-8.4,-8.6,-9.7,-10.7,-11.3,-11.2,-10.8,-10.3,-10.6,-11.1,-10.9,-11.1,-10.1,-9.3,-9.7,-10.0,-10.4,-10.9,-11.3,-12.1,-11.0,-10.3,-11.0,-10.4,-11.2,-10.7,-10.0,-10.9,-11.4,-10.2,-10.9,-10.2,-11.3,-10.6,-11.0,-9.9,-10.8,-10.2,-10.9,-11.7,-10.9,-11.2,-11.6,-12.4,-13.3,-15.3,-15.8,-14.3,-13.3,-13.2,-11.7],
  [-6.3,-8.1,-8.6,-7.9,-7.4,-7.7,-7.2,-7.1,-7.2,-7.8,-7.3,-6.7,-6.1,-6.6,-7.3,-7.4,-8.2,-9.3,-9.6,-9.4,-9.6,-9.0,-7.9,-7.3,-5.9,-6.6,-6.2,-4.8,-5.4,-6.4,-6.9,-7.6,-7.2,-8.0,-8.6,-7.9,-8.8,-9.4,-8.5,-7.7,-8.4,-9.1,-8.3,-8.6,-9.4,-8.8,-7.9,-7.1,-6.3,-6.9,-7.6,-8.4,-9.2,-8.4,-7.7,-8.3,-8.9,-9.1,-8.4,-9.6,-10.0,-9.1,-9.8,-8.6,-8.1],
  [-5.8,-7.7,-8.3,-7.6,-7.3,-7.6,-6.9,-7.4,-7.9,-8.4,-7.8,-7.4,-7.1,-7.9,-8.5,-8.7,-9.4,-10.1,-10.9,-10.6,-9.9,-8.8,-7.6,-6.7,-6.9,-7.4,-7.6,-7.9,-7.6,-9.8,-10.8,-10.2,-9.4,-10.1,-9.0,-9.6,-8.9,-8.2,-7.6,-8.1,-8.9,-7.9,-8.4,-9.2,-9.8,-9.0,-9.4,-8.3,-7.4,-7.9,-8.4,-9.1,-7.4,-6.6,-6.0,-6.4,-6.0,-2.6,-1.7,-3.1,-5.4,-7.2,-7.8,-8.6,-11.0],
  [-6.0,-7.9,-8.3,-7.7,-7.4,-7.4,-7.0,-7.3,-7.6,-8.1,-7.4,-6.9,-6.5,-7.1,-8.1,-8.2,-8.8,-9.4,-10.0,-10.2,-10.6,-10.1,-9.1,-7.9,-7.8,-8.1,-7.5,-7.3,-8.0,-8.9,-9.6,-9.9,-10.2,-9.8,-10.4,-9.2,-10.7,-10.9,-9.9,-9.0,-8.2,-7.9,-7.3,-7.6,-8.2,-7.6,-6.7,-7.1,-7.6,-8.3,-9.4,-10.7,-10.3,-9.7,-11.0,-9.4,-12.0,-15.8,-15.2,-11.2,-9.4,-8.8,-9.9,-9.1,-10.0],
  [-5.6,-7.4,-7.9,-7.2,-7.2,-7.4,-7.5,-7.8,-8.6,-9.4,-8.7,-7.4,-6.9,-7.8,-8.8,-8.9,-9.9,-10.6,-10.8,-11.3,-11.4,-10.6,-9.5,-9.4,-8.6,-9.3,-9.0,-8.6,-9.2,-9.9,-10.9,-10.5,-11.2,-10.4,-9.6,-13.0,-13.1,-15.2,-11.4,-9.8,-10.6,-10.0,-9.9,-10.6,-9.6,-9.2,-8.3,-9.0,-8.7,-9.5,-10.0,-9.0,-9.4,-10.3,-9.9,-10.8,-9.6,-10.1,-11.0,-11.6,-12.6,-12.7,-13.0,-13.0,-13.0],
  [-5.9,-7.6,-8.1,-7.5,-7.1,-7.0,-6.9,-7.1,-8.3,-9.0,-8.1,-7.4,-7.0,-7.5,-8.0,-8.2,-9.2,-10.3,-11.0,-11.2,-10.9,-12.1,-9.9,-8.6,-7.9,-7.3,-6.6,-6.4,-6.1,-6.9,-7.4,-8.1,-8.9,-8.2,-7.9,-8.5,-8.0,-7.3,-7.7,-8.4,-7.9,-8.7,-9.2,-9.6,-9.0,-9.7,-9.4,-10.1,-10.4,-10.0,-9.6,-10.0,-9.3,-10.0,-10.5,-9.7,-9.5,-10.4,-9.6,-9.0,-8.7,-9.9,-9.3,-10.0,-9.5],
  [-6.2,-8.0,-8.2,-7.8,-7.5,-7.3,-7.3,-7.7,-8.4,-9.8,-8.9,-7.8,-7.2,-7.7,-8.3,-8.0,-9.3,-10.1,-10.7,-10.7,-10.2,-9.6,-8.2,-7.5,-7.1,-6.9,-6.7,-5.9,-6.5,-7.0,-7.9,-8.8,-8.0,-7.4,-8.1,-8.7,-7.5,-7.9,-8.6,-9.2,-8.3,-7.6,-7.1,-7.9,-7.4,-7.0,-8.2,-8.7,-7.9,-7.1,-6.5,-6.9,-7.4,-8.0,-8.6,-8.4,-7.8,-8.5,-8.1,-7.4,-6.9,-7.6,-5.4,-4.2,-2.7],
  [-5.7,-7.5,-8.0,-7.3,-7.0,-7.2,-7.1,-7.3,-7.8,-8.9,-8.2,-7.7,-7.5,-8.0,-8.2,-8.4,-9.5,-10.9,-11.0,-10.9,-11.5,-10.8,-8.4,-7.0,-6.0,-6.5,-6.7,-6.3,-6.6,-7.5,-8.1,-8.4,-8.7,-9.5,-9.0,-8.4,-9.1,-8.6,-9.4,-8.0,-8.9,-9.5,-8.9,-8.2,-9.1,-10.6,-10.0,-9.3,-9.0,-8.7,-9.5,-8.8,-8.0,-7.7,-7.5,-8.7,-9.3,-9.0,-9.6,-8.8,-8.3,-9.2,-8.6,-9.2,-9.4],
  [-6.1,-7.9,-8.5,-7.6,-7.2,-7.3,-6.8,-6.7,-7.3,-8.2,-6.5,-4.6,-5.2,-6.1,-7.4,-6.7,-8.5,-9.7,-10.3,-10.0,-9.3,-8.9,-8.1,-6.9,-7.2,-6.3,-6.5,-6.8,-6.3,-7.0,-7.3,-7.0,-6.5,-6.9,-6.8,-6.1,-6.3,-5.9,-6.0,-6.2,-6.6,-6.5,-7.0,-6.9,-7.3,-7.7,-8.3,-9.1,-8.4,-7.6,-8.2,-7.7,-8.9,-9.6,-10.4,-10.9,-11.4,-10.6,-11.6,-10.6,-9.6,-8.3,-7.6,-7.0,-7.4],
  [-5.5,-7.5,-8.1,-7.4,-7.1,-7.5,-6.6,-6.5,-7.5,-8.8,-8.0,-6.9,-6.2,-6.9,-7.5,-7.6,-8.5,-9.6,-10.4,-10.7,-10.1,-9.2,-8.3,-7.4,-6.8,-5.8,-5.6,-5.7,-6.3,-6.7,-7.2,-7.6,-7.0,-7.7,-8.2,-7.4,-6.9,-7.5,-7.1,-7.9,-8.5,-7.9,-7.5,-8.1,-8.6,-8.9,-9.6,-8.8,-8.0,-8.4,-9.0,-8.1,-7.4,-7.9,-8.4,-9.1,-9.7,-9.1,-8.4,-8.8,-9.3,-9.9,-10.6,-9.7,-10.3],
];

const meanPrecip = [0,0.1,0.1,0.1,0.1,0.1,0.1,0.1,0.1,0.1,0.1,0.1,0.2,0.1,0.1,0.1,0.1,0.2,0.1,0.1,0.2,0.2,0.2,0.1,0.1,0.1,0.1,0.2,0.2,0.2,0.2,0.1,0.1,0.1,0.1,0.1,0.2,0.2,0.3,0.6,0.2,0.1,0.1,0.1,0.1,0.2,0.1,0.2,0.1,0.1,0.1,0.1,0.1,0.1,0.1,0.1,0.1,0.1,0.1,0.1,0.1,0.2,0.1,0.1,0.1];
const controlPrecip: [number, number][] = [[39,0.2],[40,0.1],[42,0.3],[43,0.5],[44,0.8],[45,0.9],[46,1.3],[47,1.1],[48,0.2]];
const gfsPrecip: [number, number][] = [[60,0.3],[61,2.4],[62,0.2],[63,1.0],[64,8.0]];

// sparse rain, one list per member: [step, mm]
const precipMembers: [number, number][][] = [
  [[44,0.2]],[[30,0.4]],[[32,0.4],[33,1.8],[34,0.4]],[[50,0.3]],[[39,1.0],[52,0.8],[53,0.5],[54,0.3],[55,1.7],[56,0.2]],
  [[35,3.8],[36,0.2],[38,2.4],[39,12.4],[40,0.2]],[[39,1.7],[40,0.2]],[[41,0.3]],[[29,0.5],[32,1.9],[33,0.3]],[[46,0.4]],
  [[49,0.2]],[[44,0.6],[45,2.0],[46,0.4]],[[38,4.0],[39,1.2],[40,0.8],[41,0.5],[42,0.6],[43,0.3]],[[46,1.1],[47,1.1],[48,2.7],[49,0.3],[60,0.3],[61,1.7],[62,4.2],[63,3.2]],[[50,0.2]],
  [[50,1.2],[51,0.3],[53,0.4],[54,1.0],[55,0.7],[56,0.2]],[[57,0.2]],[[49,0.4],[50,2.1],[51,0.2]],[[58,0.3]],[[58,0.3],[59,1.4],[60,0.2]],
  [[37,0.2]],[[43,0.3]],[[56,0.2]],[[33,1.1],[34,0.8],[35,0.2]],[[45,0.2]],[[34,0.2]],[[46,0.3]],[[41,0.2]],[[49,0.2]],[[38,0.2]],
];

const memberColors = ["#e67e30","#85c46e","#f2c500","#8e44ad","#b5500c","#5b8a00","#0a84ff","#e3d3ad","#3a8fb7","#e8a95b","#6b4f1d","#ff6a1a","#d4c17a","#00d45f","#264a68","#6c757d","#d96ff0","#7a1fe8","#7d5a2b","#2f0a6e","#f0d800","#25639c","#8b5a1e","#9b8cee","#9dff2b","#d070d0","#1b0a9c","#e0cfa8","#8b0a0a","#0a34b8"];

const x = d3.scaleLinear().domain([0, 64]).range([50.5, 690.5]);
const yTemp = d3.scaleLinear().domain([30, -45]).range([21.5, 546.5]);
const yRain = d3.scaleLinear().domain([75, 0]).range([21.5, 546.5]);
const grid = "#bbbbbb";
const mono = "'DejaVu Sans Mono', monospace";

type Pt = [number, number];
const pathOf = d3.line<Pt>().x((d) => x(d[0])).y((d) => d[1]);
const marker = d3.symbol().type(d3.symbolCross).size(9)() as string;

// zero for every step, with the sparse rain written in
function rainSeries(spikes: [number, number][]): number[] {
  const out = meanPrecip.map(() => 0);
  spikes.forEach(([i, v]) => { out[i] = v; });
  return out;
}

function Series({ values, y, color, width, start = 0, dots = true }: { values: number[]; y: d3.ScaleLinear<number, number>; color: string; width: number; start?: number; dots?: boolean }) {
  const pts: Pt[] = values.map((v, i) => [i, y(v)] as Pt).slice(start);
  return (
    <g>
      <path d={pathOf(pts) ?? ""} fill="none" stroke={color} strokeWidth={width} shapeRendering="crispEdges" strokeLinejoin="round" />
      {dots && pts.map((p) => (
        <path key={p[0]} d={marker} transform={`translate(${x(p[0])},${p[1]})`} fill={color} shapeRendering="crispEdges" />
      ))}
    </g>
  );
}

function Label({ tx, ty, children, bold, size = 10 }: { tx: number; ty: number; children: React.ReactNode; bold?: boolean; size?: number }) {
  return (
    <text x={tx} y={ty} fontFamily={mono} fontSize={size} fontWeight={bold ? "bold" : "normal"} dominantBaseline="central" fill="#000">
      {children}
    </text>
  );
}

export default function App() {
  return (
    <svg width={740} height={700} style={{ position: "absolute", left: 0, top: 0, background: "#fff" }}>
      {/* grid */}
      {dates.map((_, i) => (
        <line key={i} x1={x(i * 4)} x2={x(i * 4)} y1={0} y2={600} stroke={grid} strokeWidth={1} shapeRendering="crispEdges" />
      ))}
      {leftTicks.map((t) => (
        <line key={t} x1={50} x2={691} y1={yTemp(t)} y2={yTemp(t)} stroke={t === 0 ? "#999999" : grid} strokeWidth={t === 0 ? 2 : t % 10 === 0 ? 2 : 1} shapeRendering="crispEdges" />
      ))}
      <line x1={50} x2={691} y1={600.5} y2={600.5} stroke="#000" shapeRendering="crispEdges" />

      {/* GFS sits under the members, control and mean on top */}
      <Series values={gfsT850} y={yTemp} color="#000" width={2.6} dots={false} />
      <Series values={gfsT500} y={yTemp} color="#000" width={2.6} dots={false} />

      {t850Members.map((m, k) => <Series key={k} values={m} y={yTemp} color={memberColors[k]} width={1} />)}
      {t500Members.map((m, k) => <Series key={k} values={m} y={yTemp} color={memberColors[k]} width={1} />)}
      {precipMembers.map((m, k) => <Series key={k} values={rainSeries(m)} y={yRain} color={memberColors[k]} width={1} start={1} />)}

      <Series values={controlT850} y={yTemp} color="#0000f0" width={2.6} dots={false} />
      <Series values={controlT500} y={yTemp} color="#0000f0" width={2.6} dots={false} />
      <Series values={rainSeries(gfsPrecip)} y={yRain} color="#000" width={2} start={1} />
      <Series values={rainSeries(controlPrecip)} y={yRain} color="#0000f0" width={2.6} start={1} dots={false} />
      <Series values={meanT850} y={yTemp} color="#ff0000" width={3.6} dots={false} />
      <Series values={meanT500} y={yTemp} color="#ff0000" width={3.6} dots={false} />
      <Series values={meanPrecip} y={yRain} color="#ff0000" width={3} start={1} dots={false} />

      {/* axes text */}
      {leftTicks.map((t) => <Label key={t} tx={20} ty={yTemp(t) + 1.5}>{t}</Label>)}
      {rightTicks.map((t) => <Label key={t} tx={709} ty={yRain(t) + 1.5}>{t}</Label>)}
      {dates.map((d, i) => (
        <text key={d} transform={`translate(${x(i * 4) + 10},602) rotate(-90)`} textAnchor="end" fontFamily={mono} fontSize={10}>{d}</text>
      ))}
      <Label tx={59} ty={33}>Temp. 850hPa</Label>
      <Label tx={59} ty={258}>Temp. 500hPa</Label>
      <Label tx={59} ty={536}>Précipitations</Label>
      <Label tx={20} ty={607}>(°C)</Label>
      <Label tx={9} ty={623}>Alt. 2m</Label>
      <Label tx={710} ty={607}>(mm)</Label>

      {/* legend */}
      <rect x={35} y={635} width={31} height={4} fill="#ff0000" />
      <Label tx={74} ty={637}>Moyenne des scénarios</Label>
      <rect x={225} y={635} width={31} height={4} fill="#0000f0" />
      <Label tx={264} ty={637}>Run de contrôle</Label>
      <rect x={225} y={645} width={31} height={4} fill="#000" />
      <Label tx={264} ty={647}>Run GFS</Label>
      <text x={60} y={658} textAnchor="middle" dominantBaseline="central" fontFamily="'DejaVu Sans'" fontSize={16} fill="#4aa3e0">❄</text>
      <Label tx={74} ty={659}>Risque neige</Label>
      <Label tx={339} ty={652}>30 Perts.</Label>
      {memberColors.map((c, i) => (
        <g key={c + i}>
          <rect x={400 + i * 11} y={650} width={10} height={6} fill={c} />
          <text x={405 + i * 11} y={644} textAnchor="middle" dominantBaseline="central" fontFamily={mono} fontSize={8}>{String(i + 1).padStart(2, "0")}</text>
        </g>
      ))}

      {/* title box */}
      <rect x={20.5} y={667.5} width={420} height={31} fill="none" stroke="#000" shapeRendering="crispEdges" />
      <Label tx={30} ty={677} bold size={11.6}>Diagramme des ensembles GEFS sur 384h : 40N 17E</Label>
      <Label tx={30} ty={692}>Températures 850hPa et 500hPa (°C) , précipitations (mm)</Label>
      <Label tx={450} ty={675}>Ensemble GEFS du 25/08/2026 - 00Z</Label>
      <Label tx={450} ty={692} bold size={11.6}>Copyright 2026 Meteociel.fr</Label>
    </svg>
  );
}
